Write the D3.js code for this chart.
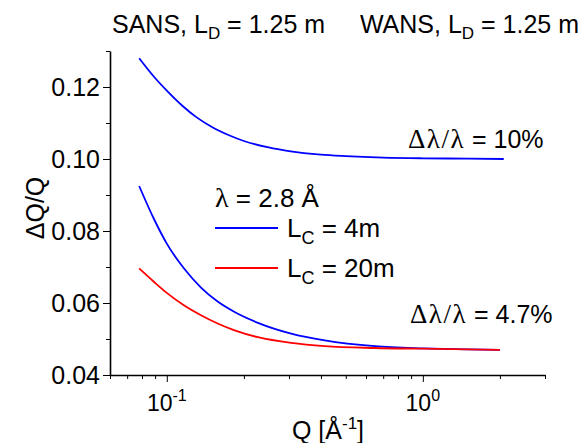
<!DOCTYPE html>
<html>
<head>
<meta charset="utf-8">
<script src="https://cdn.jsdelivr.net/npm/d3@7"></script>
<style>
  html, body { margin: 0; padding: 0; background: #fff; }
  svg { display: block; font-family: "Liberation Sans", Arial, sans-serif; }
</style>
</head>
<body>
<svg id="chart" width="582" height="443"></svg>
<script>
// Q values (Å^-1) and resolution dQ/Q for the three configurations
const qUpper = [0.078, 0.09, 0.1, 0.115, 0.13, 0.15, 0.175, 0.2, 0.25, 0.3, 0.4, 0.5, 0.7, 1.0, 1.5, 2.07];
const dqUpper = [0.1280, 0.1225, 0.1190, 0.1148, 0.1117, 0.1089, 0.1066, 0.1050, 0.1032, 0.1022, 0.1012, 0.1008, 0.1004, 0.1002, 0.1001, 0.1000];

const qLower = [0.078, 0.089, 0.1, 0.117, 0.136, 0.158, 0.184, 0.227, 0.306, 0.414, 0.65, 1.0, 1.5, 2.0];
const dqLc4 = [0.0925, 0.0834, 0.0765, 0.0695, 0.0643, 0.0604, 0.0575, 0.0545, 0.0515, 0.0496, 0.0480, 0.0474, 0.0471, 0.0470];
const dqLc20 = [0.0696, 0.0659, 0.0628, 0.0593, 0.0566, 0.0543, 0.0524, 0.0505, 0.0489, 0.0480, 0.0475, 0.0473, 0.0471, 0.0470];

// axis ticks
const xMajor = [0.1, 1];
const xMajorExp = ["-1", "0"];
const xMinor = [0.06, 0.07, 0.08, 0.09, 0.2, 0.3, 0.4, 0.5, 0.6, 0.7, 0.8, 0.9, 2, 3];
const yMajor = [0.04, 0.06, 0.08, 0.10, 0.12];
const yMinor = [0.05, 0.07, 0.09, 0.11, 0.13];

const svg = d3.select("#chart");

const x = d3.scaleLog().domain([0.06, 3]).range([110, 545]);
const y = d3.scaleLinear().domain([0.04, 0.13]).range([375, 51]);

// minor ticks
svg.append("g")
  .attr("transform", `translate(0,${y(0.04)})`)
  .call(d3.axisBottom(x).tickValues(xMinor).tickSize(4).tickFormat(""))
  .call(g => g.select(".domain").remove());
svg.append("g")
  .attr("transform", `translate(${x(0.06)},0)`)
  .call(d3.axisLeft(y).tickValues(yMinor).tickSize(4).tickFormat(""))
  .call(g => g.select(".domain").remove());

// x axis with major ticks
const xAxis = svg.append("g")
  .attr("transform", `translate(0,${y(0.04)})`)
  .call(d3.axisBottom(x).tickValues(xMajor).tickSize(7).tickSizeOuter(0).tickFormat(""));
xAxis.select(".domain").attr("stroke-width", 1.6);

// y axis with major ticks
const yAxis = svg.append("g")
  .attr("transform", `translate(${x(0.06)},0)`)
  .call(d3.axisLeft(y).tickValues(yMajor).tickSize(7).tickSizeOuter(0).tickFormat(d3.format(".2f")));
yAxis.select(".domain").attr("stroke-width", 1.6);
yAxis.selectAll("text")
  .attr("font-size", 25)
  .attr("font-family", "Liberation Sans, Arial, sans-serif")
  .attr("fill", "#000")
  .attr("x", -10);

svg.selectAll(".tick line").attr("stroke", "#000");

// x tick labels as powers of ten
xMajor.forEach((v, i) => {
  const t = svg.append("text")
    .attr("x", x(v))
    .attr("y", 411)
    .attr("text-anchor", "middle")
    .attr("font-size", 23);
  t.append("tspan").text("10");
  t.append("tspan").attr("dy", -10).attr("font-size", 16).text(xMajorExp[i]);
});

// axis titles
const xt = svg.append("text")
  .attr("x", 328).attr("y", 439)
  .attr("text-anchor", "middle")
  .attr("font-size", 25);
xt.append("tspan").text("Q [Å");
xt.append("tspan").attr("dy", -10).attr("font-size", 17).text("-1");
xt.append("tspan").attr("dy", 10).text("]");

svg.append("text")
  .attr("transform", "translate(44,208) rotate(-90)")
  .attr("text-anchor", "middle")
  .attr("font-size", 25)
  .text("ΔQ/Q");

// curves
const line = (qs) => d3.line()
  .x((d, i) => x(qs[i]))
  .y(d => y(d))
  .curve(d3.curveMonotoneX);

svg.append("path").datum(dqUpper)
  .attr("d", line(qUpper))
  .attr("fill", "none").attr("stroke", "#0000ff").attr("stroke-width", 1.8);
svg.append("path").datum(dqLc4)
  .attr("d", line(qLower))
  .attr("fill", "none").attr("stroke", "#0000ff").attr("stroke-width", 1.8);
svg.append("path").datum(dqLc20)
  .attr("d", line(qLower))
  .attr("fill", "none").attr("stroke", "#ff0000").attr("stroke-width", 1.8);

// titles above the plot
function subText(xp, yp, anchor, parts) {
  const t = svg.append("text").attr("x", xp).attr("y", yp)
    .attr("text-anchor", anchor).attr("font-size", 25);
  parts.forEach(p => {
    const s = t.append("tspan").text(p.t);
    if (p.sub) s.attr("dy", 6).attr("font-size", 17);
    if (p.back) s.attr("dy", -6);
  });
  return t;
}
subText(112, 33, "start", [{t: "SANS, L"}, {t: "D", sub: true}, {t: " = 1.25 m", back: true}]);
subText(579, 33, "end", [{t: "WANS, L"}, {t: "D", sub: true}, {t: " = 1.25 m", back: true}]);

// legend
const lam = svg.append("text").attr("x", 215).attr("y", 207).attr("font-size", 26);
lam.append("tspan").attr("font-family", "Liberation Serif, serif").attr("font-size", 28).text("λ");
lam.append("tspan").text(" = 2.8 Å");

const legendItems = [
  {color: "#0000ff", label: " = 4m", yy: 228},
  {color: "#ff0000", label: " = 20m", yy: 268}
];
legendItems.forEach(it => {
  svg.append("line")
    .attr("x1", 215).attr("x2", 278)
    .attr("y1", it.yy).attr("y2", it.yy)
    .attr("stroke", it.color).attr("stroke-width", 1.8);
  const t = svg.append("text").attr("x", 287).attr("y", it.yy + 9).attr("font-size", 26);
  t.append("tspan").text("L");
  t.append("tspan").attr("dy", 7).attr("font-size", 18).text("C");
  t.append("tspan").attr("dy", -7).text(it.label);
});

// wavelength spread annotations
function spread(xp, yp, val) {
  const t = svg.append("text").attr("x", xp).attr("y", yp).attr("font-size", 25);
  t.append("tspan").attr("font-family", "Liberation Serif, serif")
    .attr("font-size", 27).attr("letter-spacing", 1.5).text("Δλ/λ");
  t.append("tspan").text(" = " + val);
}
spread(408, 148, "10%");
spread(410, 323, "4.7%");
</script>
</body>
</html>
